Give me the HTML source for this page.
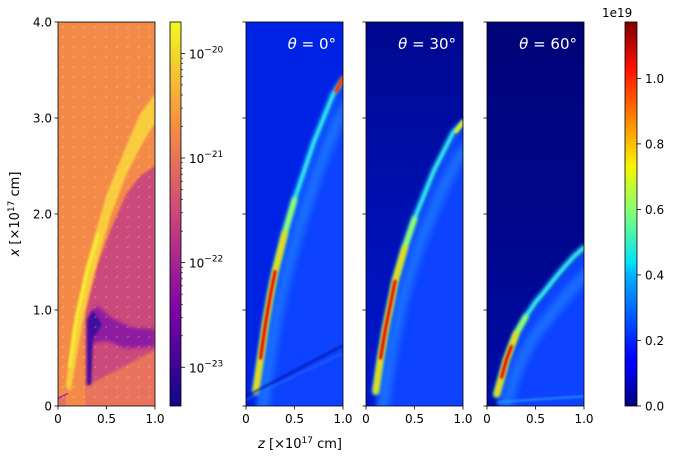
<!DOCTYPE html>
<html><head><meta charset="utf-8"><style>
body{margin:0;background:#fff}
svg{display:block;font-family:"DejaVu Sans","Liberation Sans",sans-serif}
</style></head><body>
<svg id="fig" width="687" height="459" viewBox="0 0 687 459">
<defs>
<linearGradient id="jet" x1="0" y1="1" x2="0" y2="0">
<stop offset="0" stop-color="#00007f"/><stop offset="0.11" stop-color="#0000ff"/><stop offset="0.125" stop-color="#0000ff"/>
<stop offset="0.34" stop-color="#00b0ff"/><stop offset="0.375" stop-color="#00e4f8"/><stop offset="0.5" stop-color="#7dff7a"/>
<stop offset="0.625" stop-color="#f8f500"/><stop offset="0.75" stop-color="#ff8200"/><stop offset="0.875" stop-color="#ff1300"/><stop offset="1" stop-color="#7f0000"/>
</linearGradient>
<linearGradient id="plasma" x1="0" y1="1" x2="0" y2="0">
<stop offset="0" stop-color="#0d0887"/><stop offset="0.25" stop-color="#7e03a8"/><stop offset="0.5" stop-color="#cc4778"/>
<stop offset="0.75" stop-color="#f89540"/><stop offset="1" stop-color="#f0f921"/>
</linearGradient>
<linearGradient id="bg30" x1="0" y1="0" x2="0" y2="1"><stop offset="0" stop-color="#00088f"/><stop offset="0.6" stop-color="#0012b8"/><stop offset="1" stop-color="#0018d0"/></linearGradient>
<linearGradient id="bg60" x1="0" y1="0" x2="0" y2="1"><stop offset="0" stop-color="#000478"/><stop offset="0.5" stop-color="#00068a"/><stop offset="1" stop-color="#000ca8"/></linearGradient>
<filter id="blur3" x="-50%" y="-50%" width="200%" height="200%"><feGaussianBlur stdDeviation="3.5"/></filter>
<filter id="blur" x="-50%" y="-50%" width="200%" height="200%"><feGaussianBlur stdDeviation="1.8"/></filter>
<filter id="blur2" x="-50%" y="-50%" width="200%" height="200%"><feGaussianBlur stdDeviation="1"/></filter>
<pattern id="arrows" x="58" y="22" width="10.8" height="10" patternUnits="userSpaceOnUse"><line x1="4" y1="6" x2="6" y2="4" stroke="#fff" stroke-opacity="0.4" stroke-width="0.6"/></pattern>
</defs>
<g id="plots"></g>
</svg>
<script>
const zTicks=[0,0.5,1.0];
const zTickLabels=["0","0.5","1.0"];
const xTicks=[0,1,2,3,4];
const xTickLabels=["0","1.0","2.0","3.0","4.0"];
const logTicks=[-20,-21,-22,-23];
const jetTicks=[0,0.2,0.4,0.6,0.8,1.0];
const jetTickLabels=["0.0","0.2","0.4","0.6","0.8","1.0"];
const panelTitles=["θ = 0°","θ = 30°","θ = 60°"];
// shell ridge (z, x) per panel
const ridge0=[[0.1,0.15],[0.15,0.5],[0.2,0.85],[0.25,1.15],[0.3,1.4],[0.4,1.8],[0.5,2.15],[0.6,2.45],[0.7,2.75],[0.8,3.0],[0.9,3.25],[1.0,3.4]];
const ridge30=[[0.1,0.15],[0.15,0.5],[0.2,0.8],[0.25,1.05],[0.3,1.3],[0.4,1.65],[0.5,1.95],[0.6,2.2],[0.7,2.45],[0.8,2.65],[0.9,2.85],[1.0,2.95]];
const ridge60=[[0.1,0.12],[0.15,0.3],[0.2,0.48],[0.25,0.62],[0.3,0.75],[0.4,0.93],[0.5,1.08],[0.6,1.2],[0.7,1.33],[0.8,1.45],[0.9,1.56],[1.0,1.65]];
const ridges=[ridge0,ridge30,ridge60];
const bgs=["#0022e4","url(#bg30)","url(#bg60)"];
const NS="http://www.w3.org/2000/svg";
const g=document.getElementById('plots');
const T=22,B=406,H=B-T;
function el(t,a,p){const e=document.createElementNS(NS,t);for(const k in a)e.setAttribute(k,a[k]);(p||g).appendChild(e);return e;}
function mk(L){return {sx:z=>L+z*97,sy:x=>B-x*H/4};}
function pathOf(pts,s){return pts.map((p,i)=>(i?'L':'M')+s.sx(p[0]).toFixed(1)+','+s.sy(p[1]).toFixed(1)).join(' ');}
function axes(L,W,showY){
  el('rect',{x:L,y:T,width:W,height:H,fill:'none',stroke:'#000','stroke-width':0.8});
  const s=mk(L);
  zTicks.forEach((z,i)=>{const x=L+z*W;
    const t=el('line',{x1:x,y1:B,x2:x,y2:B+3.5,stroke:'#000','stroke-width':0.8});
    
    const tx=el('text',{x:x,y:B+17,'font-size':12,'text-anchor':'middle'});tx.textContent=zTickLabels[i];
    });
  xTicks.forEach((v,i)=>{const y=s.sy(v);
    el('line',{x1:L,y1:y,x2:L-3.5,y2:y,stroke:'#000','stroke-width':0.8});
    if(showY){const tx=el('text',{x:L-6,y:y+4.5,'font-size':12,'text-anchor':'end'});tx.textContent=xTickLabels[i];
      }});
}
// left density panel
(function(){
  const L=58,s=mk(L);
  const grp=el('g',{});
  const cp=el('clipPath',{id:'cpd'},grp);el('rect',{x:L,y:T,width:97,height:H},cp);
  const inner=el('g',{'clip-path':'url(#cpd)'},grp);
  el('rect',{x:L,y:T,width:97,height:H,fill:'#f48a48'},inner);
  el('path',{d:pathOf([[0.28,0.2],[1,0.58],[1,0],[0.28,0]],s)+'Z',fill:'#e9735c'},inner);
  el('path',{d:pathOf([[0,0],[0.08,0],[0.08,0.13],[0,0.08]],s)+'Z',fill:'#e47060'},inner);
  el('path',{d:pathOf([[0.28,0.2],[0.28,0.95],[0.4,1.45],[0.55,1.85],[0.7,2.2],[0.85,2.4],[1,2.5],[1,0.58]],s)+'Z',fill:'#cc4a7c',filter:'url(#blur2)'},inner);
  el('path',{d:pathOf([[0.33,0.65],[0.5,0.68],[0.7,0.6],[1,0.62],[1,0.8],[0.75,0.82],[0.55,0.92],[0.4,1.05],[0.33,0.95]],s)+'Z',fill:'#8e1aa0',filter:'url(#blur)'},inner);
  el('path',{d:pathOf([[0.3,0.22],[0.34,0.22],[0.36,0.7],[0.45,0.85],[0.36,1.0],[0.3,0.9]],s)+'Z',fill:'#40089c',filter:'url(#blur2)'},inner);
  el('path',{d:pathOf([[0.08,0.2],[0.15,0.8],[0.2,1.05],[0.3,1.5],[0.4,1.85],[0.5,2.2],[0.6,2.45],[0.7,2.7],[0.85,3.05],[1,3.25],[1,2.95],[0.85,2.7],[0.7,2.4],[0.55,2.0],[0.42,1.55],[0.3,1.1],[0.25,0.85],[0.13,0.15]],s)+'Z',fill:'#f9cc3c',filter:'url(#blur2)'},inner);
  el('path',{d:pathOf([[0.12,0.4],[0.2,0.95],[0.3,1.4],[0.42,1.8]],s),fill:'none',stroke:'#f5f02a','stroke-width':3,filter:'url(#blur2)'},inner);
  el('path',{d:pathOf([[0,0.08],[0.1,0.13]],s),stroke:'#9b2fa0','stroke-width':1.5},inner);
  el('rect',{x:L,y:T,width:97,height:H,fill:'url(#arrows)'},inner);
  axes(L,97,true);
})();
// plasma colorbar
(function(){
  const cb=el('rect',{x:170,y:T,width:11,height:H,fill:'url(#plasma)',stroke:'#000','stroke-width':0.8});
  
  const ly=e=>B-(e-(-23.37))/(3.67)*H;
  logTicks.forEach(e=>{const y=ly(e);
    el('line',{x1:181,y1:y,x2:185,y2:y,stroke:'#000','stroke-width':0.8});
    const tx=el('text',{x:189,y:y+5,'font-size':12});
    
    tx.innerHTML='10<tspan dy="-6" font-size="9">−'+(-e)+'</tspan>';
    for(let m=2;m<10;m++){const yy=ly(e+Math.log10(m));if(yy>=T&&yy<=B)el('line',{x1:181,y1:yy,x2:183,y2:yy,stroke:'#000','stroke-width':0.6});}
  });
})();
// emission panels
[246,366,487].forEach((L,i)=>{
  const s=mk(L),r=ridges[i];
  const grp=el('g',{});
  const cp=el('clipPath',{id:'cp'+i},grp);el('rect',{x:L,y:T,width:97,height:H},cp);
  const inner=el('g',{'clip-path':'url(#cp'+i+')'},grp);
  el('rect',{x:L,y:T,width:97,height:H,fill:bgs[i]},inner);
  const under=r.map(p=>[p[0]+0.02,p[1]-0.03]);
  el('path',{d:pathOf(under.concat([[1.05,-0.1],[0.1,-0.1]]),s)+'Z',fill:'#0c42ff',filter:'url(#blur)'},inner);
  const rc={fill:'none','stroke-linecap':'round','stroke-linejoin':'round'};
  el('path',Object.assign({d:pathOf(r.map(p=>[p[0]+0.06,p[1]-0.25]),s),stroke:'#1a78ff','stroke-width':12,filter:'url(#blur3)',opacity:0.8},rc),inner);
  el('path',Object.assign({d:pathOf(r,s),stroke:'#18b4ff','stroke-width':6,filter:'url(#blur)'},rc),inner);
  el('path',Object.assign({d:pathOf(r.slice(2),s),stroke:'#40e8e0','stroke-width':2.5,filter:'url(#blur2)'},rc),inner);
  const n=i==2?6:7;
  el('path',Object.assign({d:pathOf(r.slice(0,n),s),stroke:'#a0ff60','stroke-width':5,filter:'url(#blur)'},rc),inner);
  el('path',Object.assign({d:pathOf(r.slice(0,n-1),s),stroke:'#ffd000','stroke-width':4.5,filter:'url(#blur)'},rc),inner);
  el('path',Object.assign({d:pathOf(r.slice(1,n-2),s),stroke:'#e80000','stroke-width':3.2,filter:'url(#blur2)'},rc),inner);
  if(i==0){el('path',{d:pathOf([[0,0.07],[1,0.55]],s),stroke:'#2a6cff','stroke-width':1.2,filter:'url(#blur2)'},inner);
    el('path',{d:pathOf([[0,0.1],[1,0.63]],s),stroke:'#001090','stroke-width':1.5,filter:'url(#blur2)'},inner);
    el('path',Object.assign({d:pathOf([[0.93,3.28],[1,3.42]],s),stroke:'#ff3000','stroke-width':4,filter:'url(#blur2)'},rc),inner);}
  if(i==1)el('path',Object.assign({d:pathOf([[0.93,2.86],[1,2.96]],s),stroke:'#f0e020','stroke-width':4,filter:'url(#blur2)'},rc),inner);
  if(i==2)el('path',{d:pathOf([[0.1,0.04],[1,0.1]],s),stroke:'#2aa0ff','stroke-width':1.5,filter:'url(#blur2)'},inner);
  const t=el('text',{x:L+90,y:49,'font-size':15,fill:'#fff','text-anchor':'end'});
  
  t.innerHTML='<tspan font-style="italic">θ</tspan> = '+panelTitles[i].split('= ')[1];
  axes(L,97,false);
});
// jet colorbar
(function(){
  const cb=el('rect',{x:625,y:T,width:12,height:H,fill:'url(#jet)',stroke:'#000','stroke-width':0.8});
  
  const max=1.172;
  jetTicks.forEach((v,i)=>{const y=B-v/max*H;
    el('line',{x1:637,y1:y,x2:641,y2:y,stroke:'#000','stroke-width':0.8});
    const tx=el('text',{x:645,y:y+4.5,'font-size':12});tx.textContent=jetTickLabels[i];
    });
  const e=el('text',{x:602,y:17,'font-size':12});e.textContent='1e19';
  
})();
const yl=el('text',{x:0,y:0,'font-size':13,'text-anchor':'middle',transform:'translate(19,214) rotate(-90)'});

yl.innerHTML='<tspan font-style="italic">x</tspan> [×10<tspan dy="-5" font-size="9">17</tspan><tspan dy="5"> cm]</tspan>';
const xl=el('text',{x:300,y:448,'font-size':13,'text-anchor':'middle'});

xl.innerHTML='<tspan font-style="italic">z</tspan> [×10<tspan dy="-5" font-size="9">17</tspan><tspan dy="5"> cm]</tspan>';
</script>
</body></html>
